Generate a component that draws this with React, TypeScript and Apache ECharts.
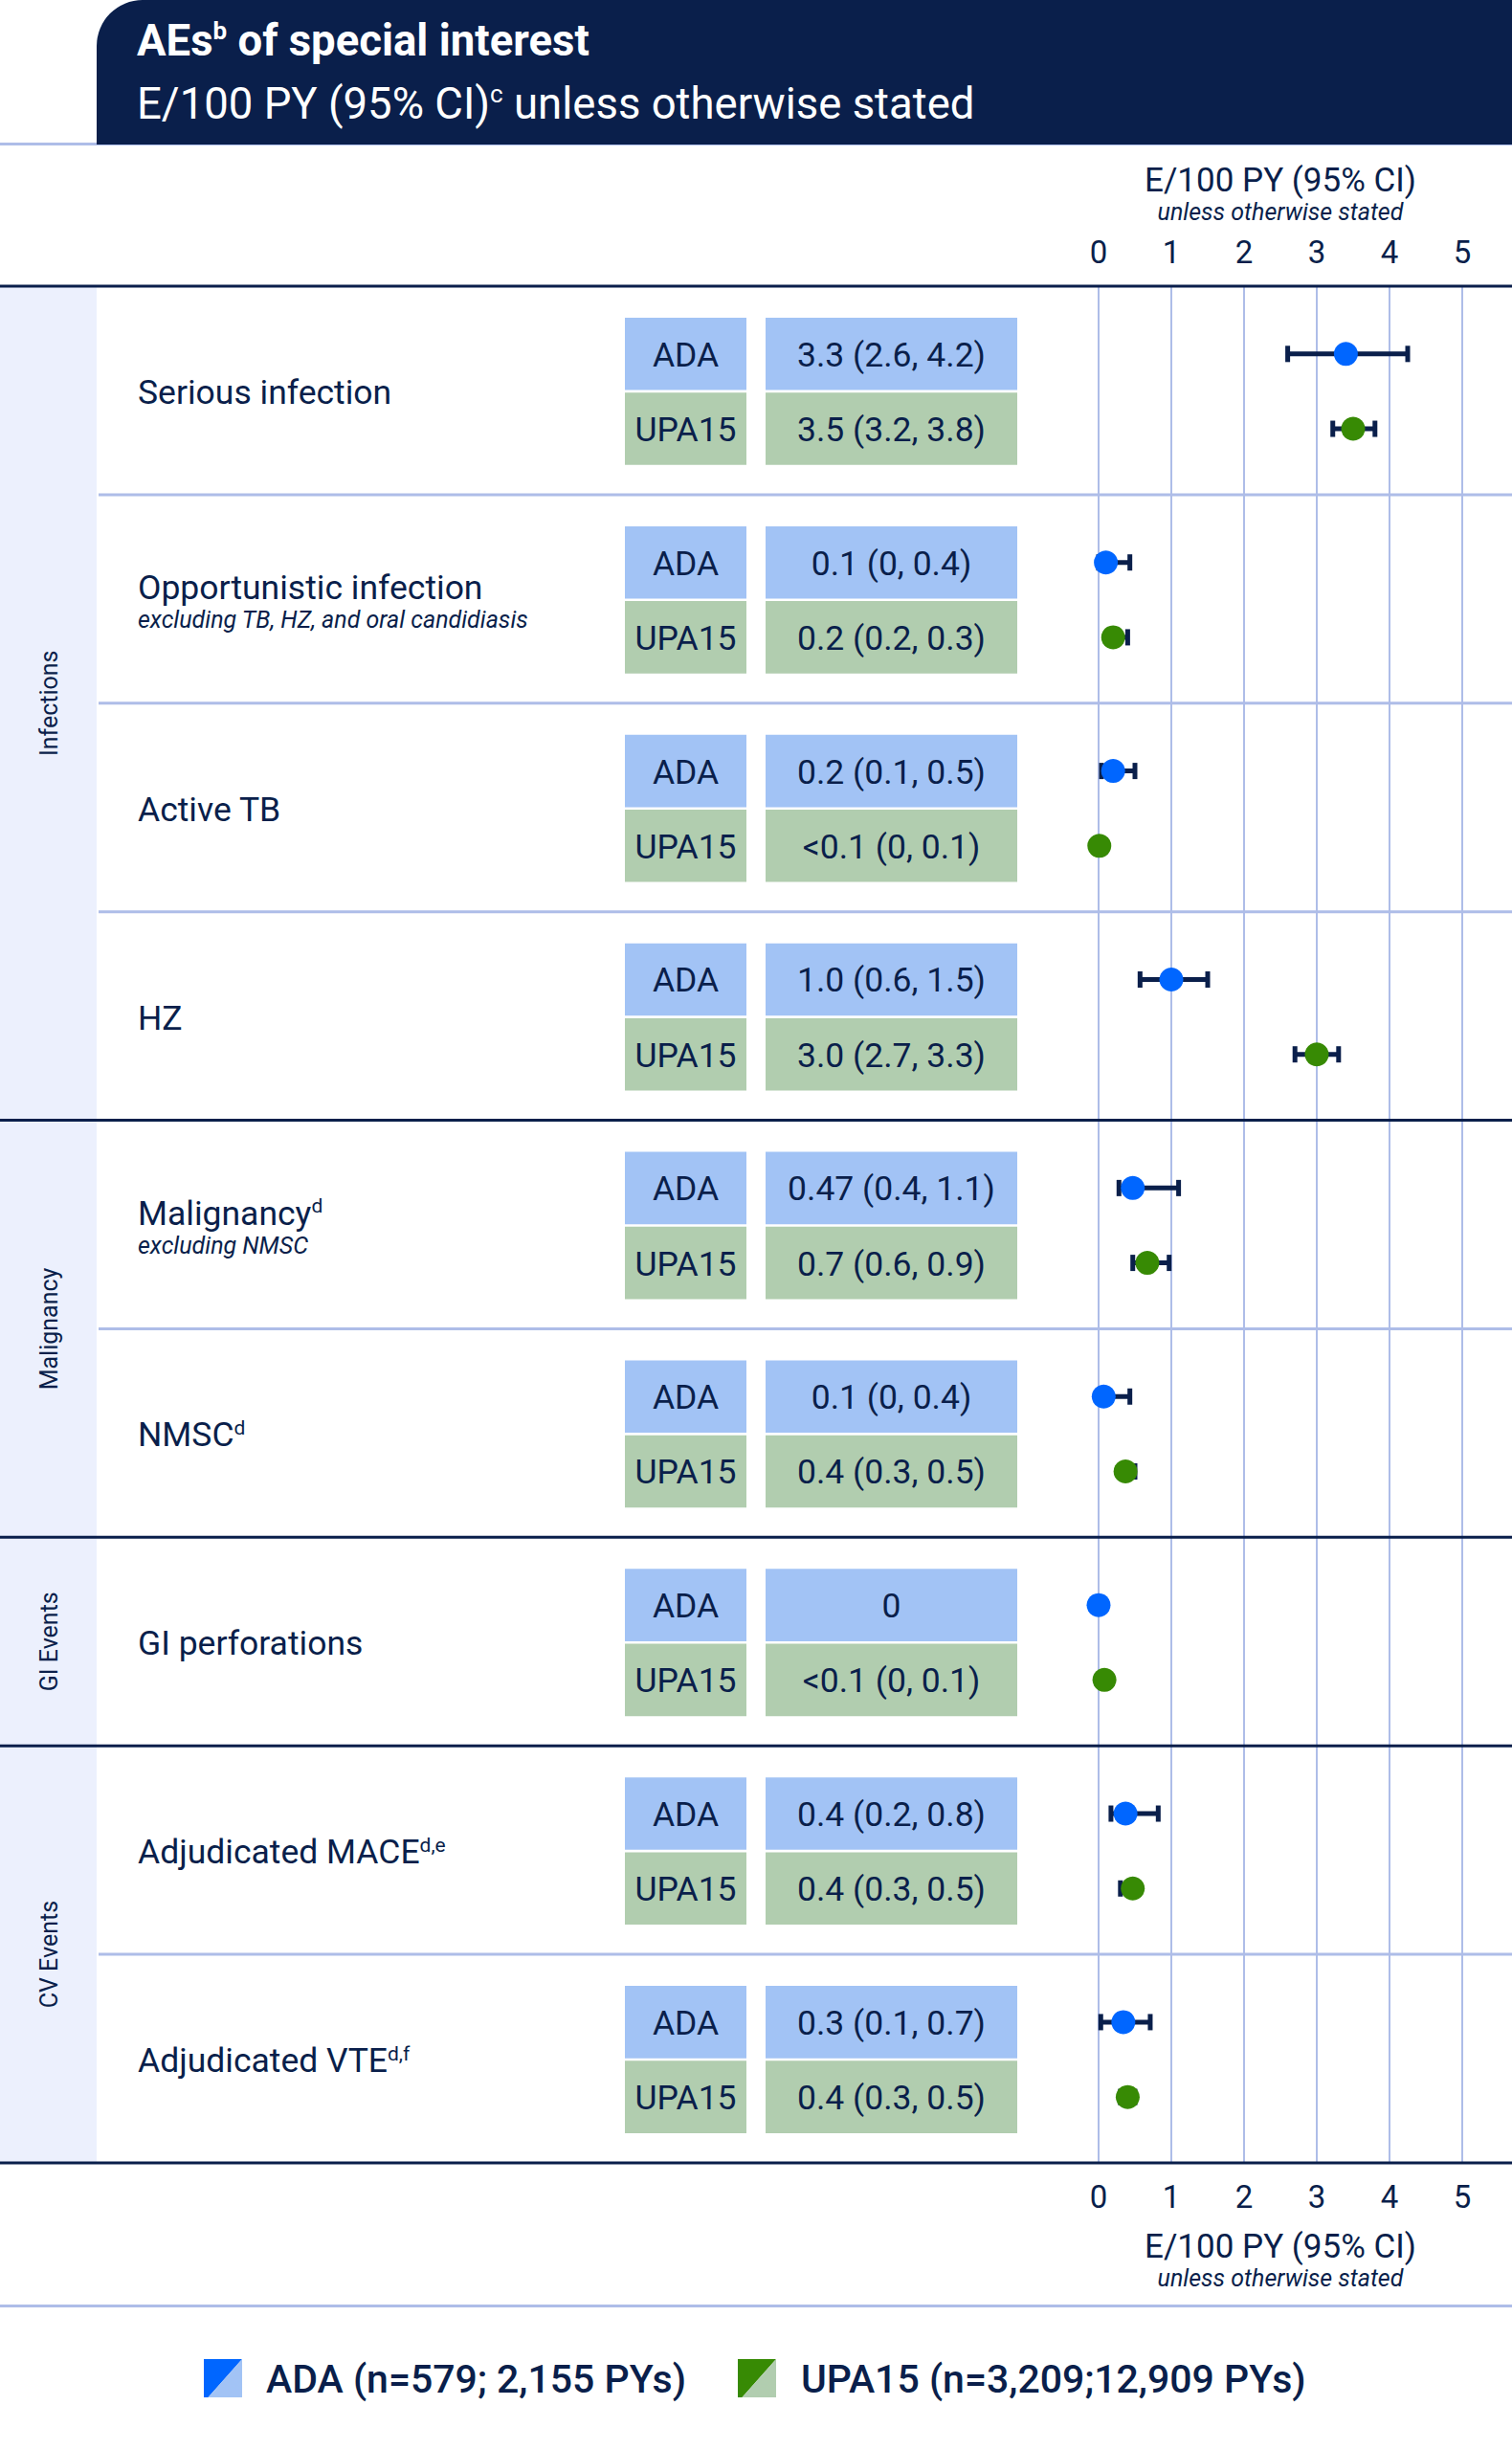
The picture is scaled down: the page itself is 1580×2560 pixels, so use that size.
import React, { useEffect, useRef } from "react";
import * as echarts from "echarts";

// ---------- Data ----------
const rowLabels = [
  "Serious infection",
  "Opportunistic infection",
  "Active TB",
  "HZ",
  "Malignancy",
  "NMSC",
  "GI perforations",
  "Adjudicated MACE",
  "Adjudicated VTE",
];
const rowSup = ["", "", "", "", "d", "d", "", "d,e", "d,f"];
const rowSub = ["", "excluding TB, HZ, and oral candidiasis", "", "", "excluding NMSC", "", "", "", ""];

const adaText = [
  "3.3 (2.6, 4.2)",
  "0.1 (0, 0.4)",
  "0.2 (0.1, 0.5)",
  "1.0 (0.6, 1.5)",
  "0.47 (0.4, 1.1)",
  "0.1 (0, 0.4)",
  "0",
  "0.4 (0.2, 0.8)",
  "0.3 (0.1, 0.7)",
];
const upaText = [
  "3.5 (3.2, 3.8)",
  "0.2 (0.2, 0.3)",
  "<0.1 (0, 0.1)",
  "3.0 (2.7, 3.3)",
  "0.7 (0.6, 0.9)",
  "0.4 (0.3, 0.5)",
  "<0.1 (0, 0.1)",
  "0.4 (0.3, 0.5)",
  "0.4 (0.3, 0.5)",
];

// plotted estimates and CI ends (as drawn)
const adaEst = [3.4, 0.1, 0.2, 1.0, 0.47, 0.07, 0, 0.37, 0.34];
const adaLow: (number | null)[] = [2.6, 0, 0.04, 0.57, 0.28, 0, null, 0.17, 0.03];
const adaHigh: (number | null)[] = [4.25, 0.43, 0.5, 1.5, 1.1, 0.43, null, 0.82, 0.71];
const upaEst = [3.5, 0.2, 0.01, 3.0, 0.67, 0.37, 0.08, 0.47, 0.4];
const upaLow: (number | null)[] = [3.22, 0.2, 0, 2.7, 0.47, 0.3, 0, 0.3, 0.3];
const upaHigh: (number | null)[] = [3.8, 0.4, 0.1, 3.3, 0.97, 0.5, 0.1, 0.5, 0.5];

const sectionNames = ["Infections", "Malignancy", "GI Events", "CV Events"];
const sectionRowCounts = [4, 2, 1, 2];

const xMin = 0;
const xMax = 5;
const xInterval = 1;

const groupNames = ["ADA", "UPA15"];
const legendLabels = ["ADA (n=579; 2,155 PYs)", "UPA15 (n=3,209;12,909 PYs)"];

const titleMain = "AEs{sup|b} of special interest";
const titleSub = "E/100 PY (95% CI){sup|c} unless otherwise stated";
const axisTitle = "E/100 PY (95% CI)";
const axisSubtitle = "unless otherwise stated";

// ---------- Style / layout ----------
const W = 1580;
const H = 2560;
const FONT = "Roboto";
const NAVY = "#0a1f4b";
const ADA_BOX = "#a2c3f5";
const UPA_BOX = "#b1cdaf";
const ADA_DOT = "#0066ff";
const UPA_DOT = "#378a04";
const GRID_C = "#aebde8";
const CAT_BG = "#ecf0fd";

const GRID_LEFT = 1148;
const GRID_RIGHT = 52;
const GRID_TOP = 299;
const GRID_BOTTOM = 300;
const CAT_W = 101;
const LABEL_X = 144;
const BOX1_X = 653;
const BOX1_W = 127;
const BOX2_X = 800;
const BOX2_W = 263;
const ADA_POS = 0.325;
const UPA_POS = 0.684;
const BOX_HALF = 0.1735;

const LABEL_FS = 35.5;
const SUB_FS = 25;
const BOX_FS = 35.5;
const HEAD_FS = 45.5;

const sectionStarts: number[] = [];
{
  let acc = 0;
  sectionRowCounts.forEach((c) => {
    sectionStarts.push(acc);
    acc += c;
  });
}

const supStyle = (size: number, color: string, weight: string | number = "normal") => ({
  fontSize: size,
  fontFamily: FONT,
  fontWeight: weight,
  fill: color,
  verticalAlign: "top",
});

export default function App() {
  const ref = useRef<HTMLDivElement>(null);

  useEffect(() => {
    document.body.style.margin = "0";
    if (!ref.current) return;
    const chart = echarts.init(ref.current, undefined, { renderer: "svg", width: W, height: H });

    const rowData = rowLabels.map((_, i) => [0, i]);
    const sectionData = sectionNames.map((_, s) => [0, sectionStarts[s], sectionStarts[s] + sectionRowCounts[s]]);

    const ciData = (low: (number | null)[], high: (number | null)[], off: number) =>
      low
        .map((l, i) => (l === null || high[i] === null ? null : [l, high[i], i + off]))
        .filter((d) => d !== null) as number[][];

    const errorBarRender = (params: any, api: any) => {
      const l = api.coord([api.value(0), api.value(2)]);
      const h = api.coord([api.value(1), api.value(2)]);
      return {
        type: "group",
        children: [
          { type: "line", shape: { x1: l[0], y1: l[1], x2: h[0], y2: h[1] }, style: { stroke: NAVY, lineWidth: 5 } },
          { type: "rect", shape: { x: l[0] - 2.5, y: l[1] - 8.5, width: 5, height: 17 }, style: { fill: NAVY } },
          { type: "rect", shape: { x: h[0] - 2.5, y: h[1] - 8.5, width: 5, height: 17 }, style: { fill: NAVY } },
        ],
      };
    };

    const tableRender = (params: any, api: any) => {
      const i = params.dataIndex;
      const yTop = api.coord([0, i])[1];
      const yBot = api.coord([0, i + 1])[1];
      const yc = (yTop + yBot) / 2;
      const children: any[] = [];
      const dark = sectionStarts.includes(i);
      children.push({
        type: "rect",
        shape: { x: dark ? 0 : CAT_W + 2, y: yTop - 1.5, width: dark ? W : W - CAT_W - 2, height: 3 },
        style: { fill: dark ? NAVY : GRID_C },
      });
      if (i === rowLabels.length - 1) {
        children.push({ type: "rect", shape: { x: 0, y: yBot - 1.5, width: W, height: 3 }, style: { fill: NAVY } });
      }
      const hasSub = rowSub[i] !== "";
      const txt = rowSup[i] ? `${rowLabels[i]}{sup|${rowSup[i]}}` : rowLabels[i];
      children.push({
        type: "text",
        x: LABEL_X,
        y: hasSub ? yc - 12 : yc + 2,
        style: {
          text: txt,
          fontSize: LABEL_FS,
          fontFamily: FONT,
          fill: NAVY,
          align: "left",
          verticalAlign: "middle",
          rich: { sup: supStyle(21, NAVY) },
        },
      });
      if (hasSub) {
        children.push({
          type: "text",
          x: LABEL_X,
          y: yc + 22,
          style: {
            text: rowSub[i],
            fontSize: SUB_FS,
            fontStyle: "italic",
            fontFamily: FONT,
            fill: NAVY,
            align: "left",
            verticalAlign: "middle",
          },
        });
      }
      const boxes = [
        { pos: ADA_POS, fill: ADA_BOX, name: groupNames[0], val: adaText[i] },
        { pos: UPA_POS, fill: UPA_BOX, name: groupNames[1], val: upaText[i] },
      ];
      boxes.forEach((b) => {
        const t = api.coord([0, i + b.pos - BOX_HALF])[1];
        const bt = api.coord([0, i + b.pos + BOX_HALF])[1];
        const m = api.coord([0, i + b.pos])[1];
        children.push({ type: "rect", shape: { x: BOX1_X, y: t, width: BOX1_W, height: bt - t }, style: { fill: b.fill } });
        children.push({ type: "rect", shape: { x: BOX2_X, y: t, width: BOX2_W, height: bt - t }, style: { fill: b.fill } });
        children.push({
          type: "text",
          x: BOX1_X + BOX1_W / 2,
          y: m + 1,
          style: { text: b.name, fontSize: BOX_FS, fontFamily: FONT, fill: NAVY, align: "center", verticalAlign: "middle" },
        });
        children.push({
          type: "text",
          x: BOX2_X + BOX2_W / 2,
          y: m + 1,
          style: { text: b.val, fontSize: BOX_FS, fontFamily: FONT, fill: NAVY, align: "center", verticalAlign: "middle" },
        });
      });
      return { type: "group", children };
    };

    const sectionRender = (params: any, api: any) => {
      const s = params.dataIndex;
      const y0 = api.coord([0, api.value(1)])[1];
      const y1 = api.coord([0, api.value(2)])[1];
      return {
        type: "group",
        children: [
          { type: "rect", shape: { x: 0, y: y0, width: CAT_W, height: y1 - y0 }, style: { fill: CAT_BG } },
          {
            type: "text",
            x: 51,
            y: (y0 + y1) / 2,
            rotation: Math.PI / 2,
            style: {
              text: sectionNames[s],
              fontSize: 25,
              fontFamily: FONT,
              fill: NAVY,
              align: "center",
              verticalAlign: "middle",
            },
          },
        ],
      };
    };

    const axisCommon = {
      type: "value",
      min: xMin,
      max: xMax,
      interval: xInterval,
      axisLine: { show: false },
      axisTick: { show: false },
      axisLabel: { fontSize: 33, color: NAVY, fontFamily: FONT, margin: 19 },
    };

    const legendIcon = (x: number, y: number, dark: string, light: string) => [
      { type: "polygon", shape: { points: [[x, y], [x + 40, y], [x + 4.5, y + 40], [x, y + 40]] }, style: { fill: dark } },
      { type: "polygon", shape: { points: [[x + 40, y], [x + 40, y + 40], [x + 4.5, y + 40]] }, style: { fill: light } },
    ];

    const option: any = {
      animation: false,
      backgroundColor: "#ffffff",
      grid: { left: GRID_LEFT, right: GRID_RIGHT, top: GRID_TOP, bottom: GRID_BOTTOM, containLabel: false },
      xAxis: [
        { ...axisCommon, position: "top", splitLine: { show: true, lineStyle: { color: GRID_C, width: 2 } } },
        { ...axisCommon, position: "bottom", splitLine: { show: false } },
      ],
      yAxis: { type: "value", min: 0, max: rowLabels.length, inverse: true, show: false },
      graphic: [
        { type: "rect", z: 0, shape: { x: 0, y: 149, width: W, height: 3 }, style: { fill: GRID_C } },
        { type: "rect", z: 1, shape: { x: CAT_W, y: 0, width: W - CAT_W, height: 151, r: [48, 0, 0, 0] }, style: { fill: NAVY } },
        {
          type: "text",
          z: 2,
          x: 143,
          y: 42,
          style: {
            text: titleMain,
            fontSize: HEAD_FS,
            fontWeight: "bold",
            fontFamily: FONT,
            fill: "#ffffff",
            align: "left",
            verticalAlign: "middle",
            rich: { sup: supStyle(26, "#ffffff", "bold") },
          },
        },
        {
          type: "text",
          z: 2,
          x: 143,
          y: 108,
          style: {
            text: titleSub,
            fontSize: HEAD_FS,
            fontFamily: FONT,
            fill: "#ffffff",
            align: "left",
            verticalAlign: "middle",
            rich: { sup: supStyle(26, "#ffffff") },
          },
        },
        { type: "text", x: 1338, y: 188, style: { text: axisTitle, fontSize: 35, fontFamily: FONT, fill: NAVY, align: "center", verticalAlign: "middle" } },
        { type: "text", x: 1338, y: 221, style: { text: axisSubtitle, fontSize: 25, fontStyle: "italic", fontFamily: FONT, fill: NAVY, align: "center", verticalAlign: "middle" } },
        { type: "text", x: 1338, y: 2347, style: { text: axisTitle, fontSize: 35, fontFamily: FONT, fill: NAVY, align: "center", verticalAlign: "middle" } },
        { type: "text", x: 1338, y: 2380, style: { text: axisSubtitle, fontSize: 25, fontStyle: "italic", fontFamily: FONT, fill: NAVY, align: "center", verticalAlign: "middle" } },
        { type: "rect", shape: { x: 0, y: 2408, width: W, height: 3 }, style: { fill: GRID_C } },
        ...legendIcon(213, 2465, ADA_DOT, ADA_BOX),
        { type: "text", x: 278, y: 2486, style: { text: legendLabels[0], fontSize: 41, fontWeight: 500, fontFamily: FONT, fill: NAVY, align: "left", verticalAlign: "middle" } },
        ...legendIcon(771, 2465, UPA_DOT, UPA_BOX),
        { type: "text", x: 837, y: 2486, style: { text: legendLabels[1], fontSize: 41, fontWeight: 500, fontFamily: FONT, fill: NAVY, align: "left", verticalAlign: "middle" } },
      ],
      series: [
        {
          type: "custom",
          name: "sections",
          z: 1,
          coordinateSystem: "cartesian2d",
          encode: { x: 0, y: [1, 2] },
          data: sectionData,
          renderItem: sectionRender,
          clip: false,
          silent: true,
        },
        {
          type: "custom",
          name: "table",
          z: 2,
          coordinateSystem: "cartesian2d",
          encode: { x: 0, y: 1 },
          data: rowData,
          renderItem: tableRender,
          clip: false,
          silent: true,
        },
        {
          type: "custom",
          name: "ADA CI",
          z: 3,
          coordinateSystem: "cartesian2d",
          encode: { x: [0, 1], y: 2 },
          data: ciData(adaLow, adaHigh, ADA_POS),
          renderItem: errorBarRender,
          clip: false,
        },
        {
          type: "custom",
          name: "UPA15 CI",
          z: 3,
          coordinateSystem: "cartesian2d",
          encode: { x: [0, 1], y: 2 },
          data: ciData(upaLow, upaHigh, UPA_POS),
          renderItem: errorBarRender,
          clip: false,
        },
        {
          type: "scatter",
          name: "ADA",
          z: 4,
          symbolSize: 25,
          clip: false,
          itemStyle: { color: ADA_DOT, opacity: 1 },
          data: adaEst.map((v, i) => [v, i + ADA_POS]),
        },
        {
          type: "scatter",
          name: "UPA15",
          z: 4,
          symbolSize: 25,
          clip: false,
          itemStyle: { color: UPA_DOT, opacity: 1 },
          data: upaEst.map((v, i) => [v, i + UPA_POS]),
        },
      ],
    };

    chart.setOption(option);
    return () => chart.dispose();
  }, []);

  return <div ref={ref} style={{ width: W, height: H }} />;
}
